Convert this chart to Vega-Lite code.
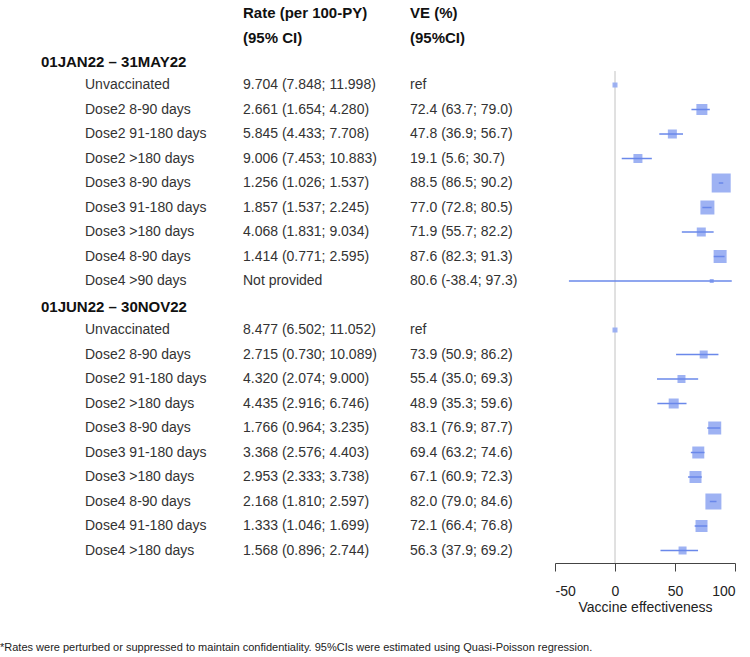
{
  "$schema": "https://vega.github.io/schema/vega-lite/v6.json",
  "width": 750,
  "height": 563,
  "padding": 0,
  "background": "white",
  "config": {"view": {"stroke": null}, "font": "Liberation Sans"},
  "title": {"text": "*Rates were perturbed or suppressed to maintain confidentiality. 95%CIs were estimated using Quasi-Poisson regression.", "orient": "bottom", "anchor": "start", "fontSize": 11, "fontWeight": "normal", "font": "Liberation Sans", "color": "#222", "offset": 28},
  "datasets": {
    "cells": [
      {"row": -3, "col": 2, "txt": "Rate (per 100-PY)", "header": true},
      {"row": -3, "col": 3, "txt": "VE (%)", "header": true},
      {"row": -2, "col": 2, "txt": "(95% CI)", "header": true},
      {"row": -2, "col": 3, "txt": "(95%CI)", "header": true},
      {"row": -1, "col": 0, "txt": "01JAN22 – 31MAY22", "header": true},
      {"row": 0, "col": 1, "txt": "Unvaccinated", "header": false},
      {"row": 0, "col": 2, "txt": "9.704 (7.848; 11.998)", "header": false},
      {"row": 0, "col": 3, "txt": "ref", "header": false},
      {"row": 1, "col": 1, "txt": "Dose2 8-90 days", "header": false},
      {"row": 1, "col": 2, "txt": "2.661 (1.654; 4.280)", "header": false},
      {"row": 1, "col": 3, "txt": "72.4 (63.7; 79.0)", "header": false},
      {"row": 2, "col": 1, "txt": "Dose2 91-180 days", "header": false},
      {"row": 2, "col": 2, "txt": "5.845 (4.433; 7.708)", "header": false},
      {"row": 2, "col": 3, "txt": "47.8 (36.9; 56.7)", "header": false},
      {"row": 3, "col": 1, "txt": "Dose2 >180 days", "header": false},
      {"row": 3, "col": 2, "txt": "9.006 (7.453; 10.883)", "header": false},
      {"row": 3, "col": 3, "txt": "19.1 (5.6; 30.7)", "header": false},
      {"row": 4, "col": 1, "txt": "Dose3 8-90 days", "header": false},
      {"row": 4, "col": 2, "txt": "1.256 (1.026; 1.537)", "header": false},
      {"row": 4, "col": 3, "txt": "88.5 (86.5; 90.2)", "header": false},
      {"row": 5, "col": 1, "txt": "Dose3 91-180 days", "header": false},
      {"row": 5, "col": 2, "txt": "1.857 (1.537; 2.245)", "header": false},
      {"row": 5, "col": 3, "txt": "77.0 (72.8; 80.5)", "header": false},
      {"row": 6, "col": 1, "txt": "Dose3 >180 days", "header": false},
      {"row": 6, "col": 2, "txt": "4.068 (1.831; 9.034)", "header": false},
      {"row": 6, "col": 3, "txt": "71.9 (55.7; 82.2)", "header": false},
      {"row": 7, "col": 1, "txt": "Dose4 8-90 days", "header": false},
      {"row": 7, "col": 2, "txt": "1.414 (0.771; 2.595)", "header": false},
      {"row": 7, "col": 3, "txt": "87.6 (82.3; 91.3)", "header": false},
      {"row": 8, "col": 1, "txt": "Dose4 >90 days", "header": false},
      {"row": 8, "col": 2, "txt": "Not provided", "header": false},
      {"row": 8, "col": 3, "txt": "80.6 (-38.4; 97.3)", "header": false},
      {"row": 9, "col": 0, "txt": "01JUN22 – 30NOV22", "header": true},
      {"row": 10, "col": 1, "txt": "Unvaccinated", "header": false},
      {"row": 10, "col": 2, "txt": "8.477 (6.502; 11.052)", "header": false},
      {"row": 10, "col": 3, "txt": "ref", "header": false},
      {"row": 11, "col": 1, "txt": "Dose2 8-90 days", "header": false},
      {"row": 11, "col": 2, "txt": "2.715 (0.730; 10.089)", "header": false},
      {"row": 11, "col": 3, "txt": "73.9 (50.9; 86.2)", "header": false},
      {"row": 12, "col": 1, "txt": "Dose2 91-180 days", "header": false},
      {"row": 12, "col": 2, "txt": "4.320 (2.074; 9.000)", "header": false},
      {"row": 12, "col": 3, "txt": "55.4 (35.0; 69.3)", "header": false},
      {"row": 13, "col": 1, "txt": "Dose2 >180 days", "header": false},
      {"row": 13, "col": 2, "txt": "4.435 (2.916; 6.746)", "header": false},
      {"row": 13, "col": 3, "txt": "48.9 (35.3; 59.6)", "header": false},
      {"row": 14, "col": 1, "txt": "Dose3 8-90 days", "header": false},
      {"row": 14, "col": 2, "txt": "1.766 (0.964; 3.235)", "header": false},
      {"row": 14, "col": 3, "txt": "83.1 (76.9; 87.7)", "header": false},
      {"row": 15, "col": 1, "txt": "Dose3 91-180 days", "header": false},
      {"row": 15, "col": 2, "txt": "3.368 (2.576; 4.403)", "header": false},
      {"row": 15, "col": 3, "txt": "69.4 (63.2; 74.6)", "header": false},
      {"row": 16, "col": 1, "txt": "Dose3 >180 days", "header": false},
      {"row": 16, "col": 2, "txt": "2.953 (2.333; 3.738)", "header": false},
      {"row": 16, "col": 3, "txt": "67.1 (60.9; 72.3)", "header": false},
      {"row": 17, "col": 1, "txt": "Dose4 8-90 days", "header": false},
      {"row": 17, "col": 2, "txt": "2.168 (1.810; 2.597)", "header": false},
      {"row": 17, "col": 3, "txt": "82.0 (79.0; 84.6)", "header": false},
      {"row": 18, "col": 1, "txt": "Dose4 91-180 days", "header": false},
      {"row": 18, "col": 2, "txt": "1.333 (1.046; 1.699)", "header": false},
      {"row": 18, "col": 3, "txt": "72.1 (66.4; 76.8)", "header": false},
      {"row": 19, "col": 1, "txt": "Dose4 >180 days", "header": false},
      {"row": 19, "col": 2, "txt": "1.568 (0.896; 2.744)", "header": false},
      {"row": 19, "col": 3, "txt": "56.3 (37.9; 69.2)", "header": false}
    ],
    "forest": [
      {"row": 0, "est": 0, "lo": null, "hi": null, "weight": 25},
      {"row": 1, "est": 72.4, "lo": 63.7, "hi": 79.0, "weight": 121},
      {"row": 2, "est": 47.8, "lo": 36.9, "hi": 56.7, "weight": 81},
      {"row": 3, "est": 19.1, "lo": 5.6, "hi": 30.7, "weight": 81},
      {"row": 4, "est": 88.5, "lo": 86.5, "hi": 90.2, "weight": 361},
      {"row": 5, "est": 77.0, "lo": 72.8, "hi": 80.5, "weight": 196},
      {"row": 6, "est": 71.9, "lo": 55.7, "hi": 82.2, "weight": 81},
      {"row": 7, "est": 87.6, "lo": 82.3, "hi": 91.3, "weight": 169},
      {"row": 8, "est": 80.6, "lo": -38.4, "hi": 97.3, "weight": 16},
      {"row": 10, "est": 0, "lo": null, "hi": null, "weight": 25},
      {"row": 11, "est": 73.9, "lo": 50.9, "hi": 86.2, "weight": 64},
      {"row": 12, "est": 55.4, "lo": 35.0, "hi": 69.3, "weight": 64},
      {"row": 13, "est": 48.9, "lo": 35.3, "hi": 59.6, "weight": 100},
      {"row": 14, "est": 83.1, "lo": 76.9, "hi": 87.7, "weight": 169},
      {"row": 15, "est": 69.4, "lo": 63.2, "hi": 74.6, "weight": 144},
      {"row": 16, "est": 67.1, "lo": 60.9, "hi": 72.3, "weight": 144},
      {"row": 17, "est": 82.0, "lo": 79.0, "hi": 84.6, "weight": 256},
      {"row": 18, "est": 72.1, "lo": 66.4, "hi": 76.8, "weight": 144},
      {"row": 19, "est": 56.3, "lo": 37.9, "hi": 69.2, "weight": 64}
    ]
  },
  "resolve": {"scale": {"x": "independent"}},
  "layer": [
    {
      "data": {"name": "cells"},
      "encoding": {
        "x": {"field": "col", "type": "quantitative", "scale": {"domain": [0, 1, 2, 3], "range": [41, 85, 243, 410]}, "axis": null},
        "y": {"field": "row", "type": "quantitative", "scale": {"domain": [-3.47, 19.51], "reverse": true, "nice": false, "zero": false}, "axis": null},
        "text": {"field": "txt", "type": "nominal"}
      },
      "layer": [
        {"transform": [{"filter": "datum.header"}], "mark": {"type": "text", "align": "left", "baseline": "middle", "fontSize": 15, "fontWeight": "bold", "color": "#111", "dy": 1.5}},
        {"transform": [{"filter": "!datum.header"}], "mark": {"type": "text", "align": "left", "baseline": "middle", "fontSize": 14, "color": "#333"}}
      ]
    },
    {
      "data": {"name": "forest"},
      "layer": [
        {
          "mark": {"type": "rule", "color": "#e0e0e0", "strokeWidth": 1},
          "encoding": {
            "x": {"datum": 0, "type": "quantitative"},
            "y": {"datum": -0.55, "type": "quantitative"},
            "y2": {"datum": 19.51}
          }
        },
        {
          "mark": {"type": "square", "filled": true, "color": "#94aaf2", "opacity": 0.9},
          "encoding": {
            "x": {"field": "est", "type": "quantitative"},
            "y": {"field": "row", "type": "quantitative"},
            "size": {"field": "weight", "type": "quantitative", "scale": {"type": "linear", "domain": [0, 361], "range": [0, 361]}, "legend": null}
          }
        },
        {
          "transform": [{"filter": "datum.lo != null"}],
          "mark": {"type": "rule", "color": "#6a88ea", "strokeWidth": 1.5},
          "encoding": {
            "x": {"field": "lo", "type": "quantitative"},
            "x2": {"field": "hi"},
            "y": {"field": "row", "type": "quantitative"}
          }
        }
      ],
      "encoding": {
        "x": {"type": "quantitative", "scale": {"domain": [-50, 100], "range": [555, 735]},
          "axis": {"values": [-50, 0, 50, 100], "labelExpr": "'' + datum.value", "title": "Vaccine effectiveness", "grid": false, "domainColor": "#444", "tickColor": "#444", "tickSize": 8, "labelFontSize": 14, "labelColor": "#222", "labelPadding": 13, "labelFont": "Liberation Sans", "titleFont": "Liberation Sans", "titleFontSize": 14, "titleFontWeight": "normal", "titleColor": "#222", "titlePadding": 2}},
        "y": {"type": "quantitative", "scale": {"domain": [-3.47, 19.51], "reverse": true, "nice": false, "zero": false}, "axis": null}
      }
    }
  ]
}
